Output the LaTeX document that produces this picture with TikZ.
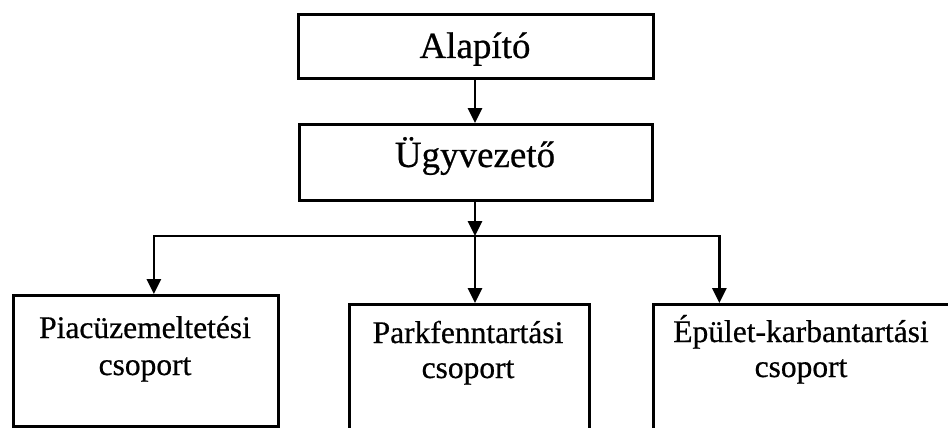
\documentclass[tikz,border=0pt]{standalone}
\usepackage{fontspec}
\setmainfont{Liberation Serif}[FakeBold=0.6]
\usetikzlibrary{arrows.meta}
\begin{document}
\begin{tikzpicture}[x=1pt,y=-1pt,
  box/.style={draw=black,line width=2.8pt,rectangle,anchor=north west,inner sep=0pt},
  bigtxt/.style={anchor=base,inner sep=0pt,font=\fontsize{37}{44}\selectfont},
  smalltxt/.style={anchor=base,inner sep=0pt,font=\fontsize{31.5}{37}\selectfont},
  conn/.style={line width=2.8pt},
  arr/.style={conn,-{Triangle[length=15pt,width=14pt]}}]
\clip (0,0) rectangle (948,428);
\fill[white] (0,0) rectangle (948,428);
% boxes
\node[box,minimum width=355pt,minimum height=64pt] (alap) at (297,13) {};
\node[box,minimum width=353pt,minimum height=76pt] (ugy) at (298,123) {};
\node[box,minimum width=265pt,minimum height=131pt] (piac) at (12,294) {};
\node[box,minimum width=240pt,minimum height=160pt] (park) at (348,303) {};
\node[box,minimum width=300pt,minimum height=160pt] (epul) at (652,303) {};
% texts
\node[bigtxt] (t1) at (475,58) {Alapító};
\node[bigtxt] (t2) at (475,167) {Ügyvezető};
\node[smalltxt] (t3a) at (145,338) {Piacüzemeltetési};
\node[smalltxt] (t3b) at (145,375) {csoport};
\node[smalltxt] (t4a) at (468,343) {Parkfenntartási};
\node[smalltxt] (t4b) at (468,378) {csoport};
\node[smalltxt] (t5a) at (801,342) {Épület-karbantartási};
\node[smalltxt] (t5b) at (801,377) {csoport};
% connectors
\coordinate (j) at (475,236);
\draw[arr] (alap.south -| 475,0) -- (ugy.north -| 475,0);
\draw[arr] (ugy.south -| 475,0) -- (j);
\draw[arr] (j) -- (park.north -| j);
\draw[arr] (j) -| ([xshift=8pt]piac.north);
\draw[arr] (j) -| ([xshift=-84pt]epul.north);
\end{tikzpicture}
\end{document}
